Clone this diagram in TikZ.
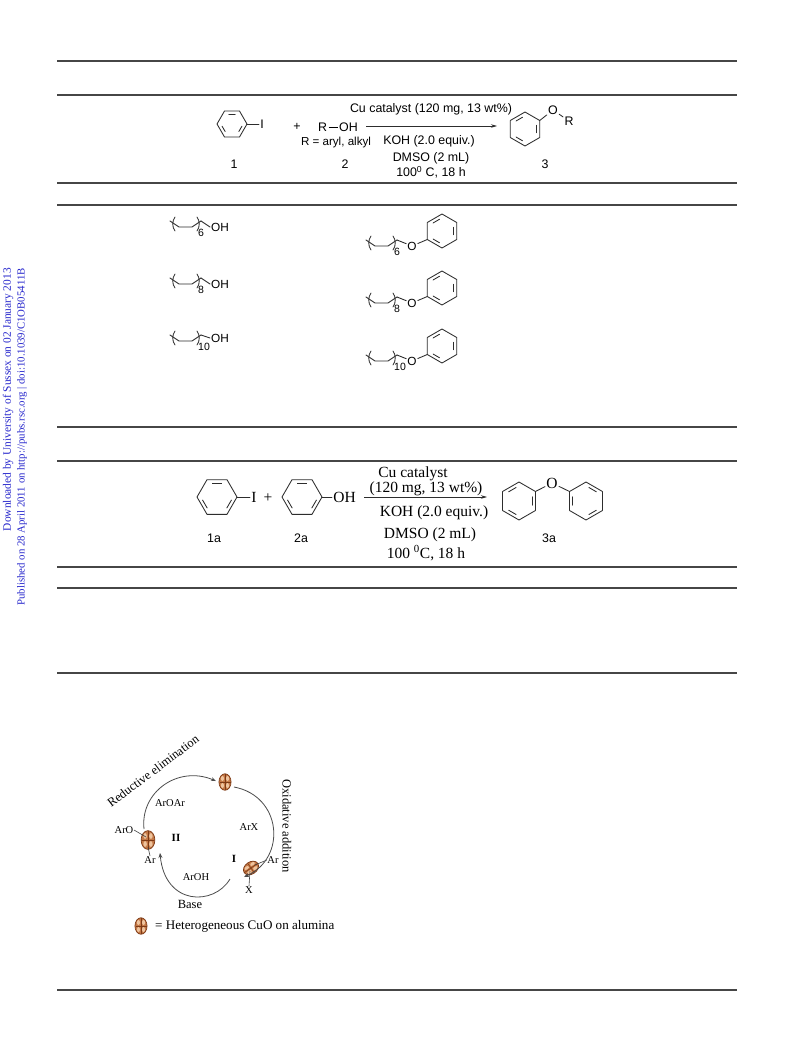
\documentclass[tikz,border=0pt]{standalone}
\usepackage{fontspec}
\setmainfont{Liberation Serif}
\newfontfamily\arial{Liberation Sans}
\usetikzlibrary{arrows.meta,shapes.geometric,calc}

\definecolor{rulegray}{RGB}{70,70,70}
\definecolor{bondgray}{RGB}{45,45,45}
\definecolor{wmblue}{RGB}{40,40,205}
\definecolor{cuofill}{RGB}{196,120,70}
\definecolor{cuolight}{RGB}{238,196,158}
\definecolor{cuodark}{RGB}{125,58,22}

\tikzset{
 rulel/.style={draw=rulegray, line width=1.3pt},
 bond/.style={draw=bondgray, line width=0.85pt, line join=round, line cap=round},
 sans/.style={font=\arial\fontsize{12.4}{14}\selectfont, inner sep=0pt},
 sansM/.style={font=\arial\fontsize{11.6}{13}\selectfont, inner sep=0pt},
 atomS/.style={font=\arial\fontsize{12.4}{14}\selectfont, inner sep=1.2pt},
 sansS/.style={font=\arial\fontsize{11.8}{13}\selectfont, inner sep=1pt},
 subtxt/.style={font=\arial\fontsize{10.5}{12}\selectfont, inner sep=0pt},
 serifL/.style={font=\fontsize{15.5}{17}\selectfont, inner sep=0pt},
 serifAtom/.style={font=\fontsize{15.5}{17}\selectfont, inner sep=1.2pt},
 lab/.style={font=\arial\fontsize{12.4}{14}\selectfont, inner sep=0pt},
 cyc/.style={font=\fontsize{10.5}{12}\selectfont, inner sep=0.5pt},
 cycB/.style={font=\bfseries\fontsize{11}{12}\selectfont, inner sep=0.5pt},
 cycL/.style={font=\fontsize{12.5}{14}\selectfont, inner sep=0pt},
 legendtxt/.style={font=\fontsize{13.1}{15}\selectfont, inner sep=0pt},
 wm/.style={text=wmblue, inner sep=0pt, rotate=90, anchor=east},
 rxn/.style={draw=bondgray, line width=0.8pt, -{Stealth[length=6pt,width=3.5pt]}},
 cycarrow/.style={draw=black!70, line width=0.8pt, -{Stealth[length=5pt,width=4pt]}},
 thinbond/.style={draw=black!75, line width=0.6pt},
 cuo/.pic={
  \fill[cuofill] (0,0) ellipse [x radius=5.5, y radius=7.5];
  \fill[cuolight] (-2.3,-3.2) ellipse [x radius=1.4, y radius=2.3];
  \fill[cuolight] (2.3,-3.2) ellipse [x radius=1.4, y radius=2.3];
  \fill[cuolight] (-2.3,3.2) ellipse [x radius=1.4, y radius=2.3];
  \fill[cuolight] (2.3,3.2) ellipse [x radius=1.4, y radius=2.3];
  \draw[cuodark, line width=0.7pt] (0,0) ellipse [x radius=5.5, y radius=7.5];
  \draw[cuodark, line width=0.6pt] (0,-7.5) -- (0,7.5);
  \draw[cuodark, line width=0.5pt] (-5,0) -- (5,0);
 }
}

% hexagon: #1 centre, #2 radius, #3 angle offset, #4 edges with inner lines
\newcommand\benzring[4]{%
 \draw[bond] (#1) +(#3:#2) -- +(#3+60:#2) -- +(#3+120:#2) -- +(#3+180:#2) -- +(#3+240:#2) -- +(#3+300:#2) -- cycle;
 \pgfmathsetmacro\innerrho{(0.866*#2-3.3)/cos(18)}
 \foreach \k in {#4}{\draw[bond] (#1) +(#3+60*\k+12:\innerrho) -- +(#3+60*\k+48:\innerrho);}
}
% alkyl chain with repeat brackets: #1 start, #2 subscript, #3 end coordinate name
\newcommand\alkchain[3]{%
 \draw[bond] (#1) -- ++(9,6) -- ++(13,0) -- ++(9,-6) coordinate (#3);
 \draw[bond] (#1) ++(5,-4) .. controls +(-3,4) and +(-3,-4) .. ++(0,14);
 \draw[bond] (#1) ++(27,-4) .. controls +(3,4) and +(3,-4) .. ++(0,14);
 \node[subtxt, anchor=west] (#3n) at ($(#1)+(28,12)$) {#2};
}

\begin{document}
\begin{tikzpicture}[x=1pt,y=-1pt]
\useasboundingbox (0,0) rectangle (793,1039);
\fill[white] (0,0) rectangle (793,1039);

% ---------- horizontal rules ----------
\foreach \yy [count=\i] in {61,95,183,205,427,461,567,588,673,990}{
  \coordinate (rl\i) at (57,\yy); \coordinate (rr\i) at (737,\yy);
  \draw[rulel] (rl\i) -- (rr\i);
}

% ---------- watermark ----------
\node[wm, font=\fontsize{11.4}{13}\selectfont] (wm1) at (8,268) {Downloaded by University of Sussex on 02 January 2013};
\node[wm, font=\fontsize{10.8}{12}\selectfont] (wm2) at (22,268) {Published on 28 April 2011 on http://pubs.rsc.org | doi:10.1039/C1OB05411B};

% ---------- scheme 1 ----------
\coordinate (s1r1) at (232,124);
\benzring{s1r1}{15}{0}{0,2,4}
\node[atomS] (s1I) at (262,124) {I};
\draw[bond] ($(s1r1)+(15,0)$) -- (s1I.west);
\node[sans] (s1plus) at (297,127) {+};
\node[sans] (s1roh) at (338,127) {R\hspace{1.5pt}\rule[3.6pt]{9pt}{0.7pt}\hspace{1.5pt}OH};
\node[sansM] (s1rdef) at (336,142) {R = aryl, alkyl};
\coordinate (s1as) at (366,126);
\coordinate (s1ae) at (497,126);
\draw[rxn] (s1as) -- (s1ae);
\node[sans] (s1c1) at (431,109) {Cu catalyst (120 mg, 13 wt\%)};
\node[sans] (s1c2) at (429,141) {KOH (2.0 equiv.)};
\node[sans] (s1c3) at (431,158) {DMSO (2 mL)};
\node[sans] (s1c4) at (431,172) {100\textsuperscript{0} C, 18 h};
\coordinate (s1r3) at (525,129);
\benzring{s1r3}{17}{30}{1,3,5}
\node[atomS] (s1O) at (553,110) {O};
\node[atomS] (s1R) at (569,121) {R};
\draw[bond] ($(s1r3)+(330:17)$) -- (s1O);
\draw[bond] (s1O) -- (s1R);
\node[lab] (s1l1) at (234,164) {1};
\node[lab] (s1l2) at (345,164) {2};
\node[lab] (s1l3) at (545,164) {3};

% ---------- table rows: alcohols ----------
\coordinate (ra1) at (170,221);
\alkchain{ra1}{6}{rd1}
\node[sansS, anchor=west] (roh1) at ($(rd1)+(9,6)$) {OH};
\draw[bond] (rd1) -- (roh1.west);

\coordinate (ra2) at (170,278);
\alkchain{ra2}{8}{rd2}
\node[sansS, anchor=west] (roh2) at ($(rd2)+(9,6)$) {OH};
\draw[bond] (rd2) -- (roh2.west);

\coordinate (ra3) at (170,335);
\alkchain{ra3}{10}{rd3}
\node[sansS, anchor=west] (roh3) at ($(rd3)+(9,3)$) {OH};
\draw[bond] (rd3) -- (roh3.west);

% ---------- table rows: ethers ----------
\foreach \r/\n/\yy in {1/6/240, 2/8/297, 3/10/355}{
  \coordinate (pa\r) at (366,\yy);
  \alkchain{pa\r}{\n}{pd\r}
  \node[sansS] (po\r) at ($(pa\r)+(46,6)$) {O};
  \coordinate (pc\r) at ($(pa\r)+(76,-9)$);
  \benzring{pc\r}{17}{30}{1,3,5}
  \draw[bond] (pd\r) -- (po\r);
  \draw[bond] (po\r) -- ($(pc\r)+(150:17)$);
}

% ---------- scheme 2 ----------
\coordinate (s2r1) at (217,497);
\benzring{s2r1}{20}{0}{0,2,4}
\node[serifAtom] (s2I) at (254,497) {I};
\draw[bond] ($(s2r1)+(20,0)$) -- (s2I.west);
\node[serifL] (s2plus) at (268,498) {+};
\coordinate (s2r2) at (302,497);
\benzring{s2r2}{20}{0}{0,2,4}
\node[serifAtom, anchor=west] (s2OH) at (332,497) {OH};
\draw[bond] ($(s2r2)+(20,0)$) -- (s2OH.west);
\coordinate (s2as) at (364,497);
\coordinate (s2ae) at (487,497);
\draw[rxn] (s2as) -- (s2ae);
\node[serifL] (s2c1) at (413,474) {Cu catalyst};
\node[serifL] (s2c2) at (426,489) {(120 mg, 13 wt\%)};
\node[serifL] (s2c3) at (434,513) {KOH (2.0 equiv.)};
\node[serifL] (s2c4) at (430,535) {DMSO (2 mL)};
\node[serifL] (s2c5) at (426,553) {100 \textsuperscript{0}C, 18 h};
\coordinate (s2p1) at (519,501);
\coordinate (s2p2) at (586,501);
\benzring{s2p1}{19}{30}{1,3,5}
\benzring{s2p2}{19}{30}{0,2,4}
\node[serifAtom] (s2O) at (552,483) {O};
\draw[bond] ($(s2p1)+(330:19)$) -- (s2O);
\draw[bond] (s2O) -- ($(s2p2)+(210:19)$);
\node[lab] (s2l1) at (214,538) {1a};
\node[lab] (s2l2) at (301,538) {2a};
\node[lab] (s2l3) at (549,538) {3a};

% ---------- catalytic cycle ----------
\coordinate (cTop) at (225,782);
\coordinate (cI) at (251,868);
\coordinate (cII) at (148,840);
\coordinate (cLeg) at (141,926);
\pic[scale=1.1] at (cTop) {cuo};
\pic[rotate=-55, scale=1.1] at (cI) {cuo};
\pic[scale=1.25] at (cII) {cuo};
\pic[scale=1.1] at (cLeg) {cuo};

\node[cyc] (lArOAr) at (170,803) {ArOAr};
\node[cyc] (lArX) at (249,827) {ArX};
\node[cyc] (lArOH) at (196,877) {ArOH};
\node[cycL] (lBase) at (190,904) {Base};
\node[cycB] (lI) at (234,859) {I};
\node[cyc] (lIAr) at (273,860) {Ar};
\node[cyc] (lIX) at (249,890) {X};
\node[cyc] (lArO) at (124,830) {ArO};
\node[cycB] (lII) at (176,838) {II};
\node[cyc] (lIIAr) at (150,860) {Ar};
\node[cycL, rotate=37] (lRE) at (153,771) {Reductive elimination};
\node[cycL, rotate=-90] (lOA) at (287,826) {Oxidative addition};
\node[legendtxt, anchor=west] (lLeg) at (155,926) {= Heterogeneous CuO on alumina};

\draw[thinbond] (lIAr.west) -- ($(cI)+(4,-3)$);
\draw[thinbond] (lIX.north) -- ($(cI)+(-1,3)$);
\draw[thinbond] (lArO.east) -- ($(cII)+(-2,-3)$);
\draw[thinbond] (lIIAr.north) -- ($(cII)+(0,7)$);

\coordinate (a1s) at (144,829);
\coordinate (a1e) at (216,781);
\coordinate (a2s) at (234,787);
\coordinate (a2e) at (244,877);
\coordinate (a3s) at (230,879);
\coordinate (a3e) at (160,853);
\draw[cycarrow] (a1s) .. controls (140,792) and (178,765) .. (a1e);
\draw[cycarrow] (a2s) .. controls (282,796) and (287,858) .. (a2e);
\draw[cycarrow] (a3s) .. controls (214,906) and (165,906) .. (a3e);
\end{tikzpicture}
\end{document}
